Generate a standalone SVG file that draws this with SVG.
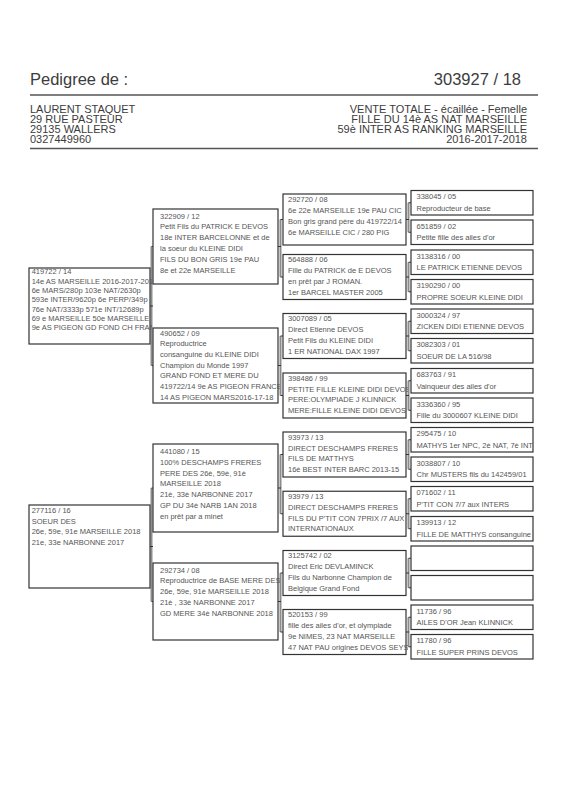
<svg xmlns="http://www.w3.org/2000/svg" width="566" height="800" viewBox="0 0 566 800">
<style>
.b{fill:#fff;stroke:#333;stroke-width:1.2}
.t{font-family:"Liberation Sans",Arial,sans-serif;font-size:7.5px;fill:#555}
.h{font-family:"Liberation Sans",Arial,sans-serif;fill:#3c3c3c}
.c{stroke:#8c8c8c;stroke-width:2;fill:none}
.k{stroke:#333;stroke-width:1.2;fill:none}
.r{stroke:#555;stroke-width:1.3}
</style>
<defs>
<clipPath id="cp1"><rect x="29" y="268" width="123" height="76"/></clipPath>
<clipPath id="cp2"><rect x="29" y="505" width="123" height="83"/></clipPath>
<clipPath id="cp3"><rect x="153" y="209" width="127" height="75"/></clipPath>
<clipPath id="cp4"><rect x="153" y="328" width="127" height="75"/></clipPath>
<clipPath id="cp5"><rect x="153" y="444" width="127" height="88"/></clipPath>
<clipPath id="cp6"><rect x="153" y="563" width="127" height="77"/></clipPath>
<clipPath id="cp3c"><rect x="283" y="190" width="125" height="470"/></clipPath>
<clipPath id="cp4c"><rect x="411" y="188" width="124" height="475"/></clipPath>
</defs>
<rect width="566" height="800" fill="#fff"/>
<g id="header">
<text class="h" x="30" y="85" font-size="16.5">Pedigree de :</text>
<text class="h" x="521" y="85" font-size="16.5" text-anchor="end">303927 / 18</text>
<line class="r" x1="30" y1="95" x2="538" y2="95"/>
<text class="h" font-size="11"><tspan x="30" y="112.5">LAURENT STAQUET</tspan><tspan x="30" y="122.8">29 RUE PASTEUR</tspan><tspan x="30" y="133.1">29135 WALLERS</tspan><tspan x="30" y="143.4">0327449960</tspan></text>
<text class="h" font-size="11" text-anchor="end"><tspan x="527" y="112.5">VENTE TOTALE - écaillée - Femelle</tspan><tspan x="527" y="122.8">FILLE DU 14è AS NAT MARSEILLE</tspan><tspan x="527" y="133.1">59è INTER AS RANKING MARSEILLE</tspan><tspan x="527" y="143.4">2016-2017-2018</tspan></text>
<line class="r" x1="30" y1="148.5" x2="538" y2="148.5"/>
</g>
<g id="connectors">
<path class="c" d="M151.5 246.5V365.5M151.5 488V601.5"/>
<path class="c" d="M280.5 219.5V277M280.5 336V395.5M280.5 454.5V513.75M280.5 573V632"/>
<path class="c" d="M408.5 202.75V232.25M408.5 262.25V291.75M408.5 321.25V350.75M408.5 380.75V410.25M408.5 439.75V469.25M408.5 498.75V528.75M408.5 558.25V587.75M408.5 617.25V646.75"/>
<path class="k" d="M150 306H153M150 546.5H153M151.5 246.5H153M151.5 365.5H153M151.5 488H153M151.5 601.5H153"/>
<path class="k" d="M278 246.5H281M278 365.5H281M278 488H281M278 601.5H281M280.5 219.5H283M280.5 277H283M280.5 336H283M280.5 395.5H283M280.5 454.5H283M280.5 513.75H283M280.5 573H283M280.5 632H283"/>
<path class="k" d="M406 219.5H409M406 277H409M406 336H409M406 395.5H409M406 454.5H409M406 513.75H409M406 573H409M406 632H409M408.5 202.75H411M408.5 232.25H411M408.5 262.25H411M408.5 291.75H411M408.5 321.25H411M408.5 350.75H411M408.5 380.75H411M408.5 410.25H411M408.5 439.75H411M408.5 469.25H411M408.5 498.75H411M408.5 528.75H411M408.5 558.25H411M408.5 587.75H411M408.5 617.25H411M408.5 646.75H411"/>
</g>
<g id="n1"><rect class="b" x="29" y="268" width="121" height="76"/>
<text class="t" clip-path="url(#cp1)"><tspan x="31.7" y="274.3">419722 / 14</tspan><tspan x="31.7" y="283.6">14e AS MARSEILLE 2016-2017-2018</tspan><tspan x="31.7" y="293">6e MARS/280p 103e NAT/2630p</tspan><tspan x="31.7" y="302.3">593e INTER/9620p 6e PERP/349p</tspan><tspan x="31.7" y="311.7">76e NAT/3333p 571e INT/12689p</tspan><tspan x="31.7" y="321">69 e MARSEILLE 50e MARSEILLE</tspan><tspan x="31.7" y="330.4">9e AS PIGEON GD FOND CH FRANCE</tspan></text></g>
<g id="n2"><rect class="b" x="29" y="505" width="121" height="83"/>
<text class="t" clip-path="url(#cp2)"><tspan x="31.7" y="512.7">277116 / 16</tspan><tspan x="31.7" y="523.5">SOEUR DES</tspan><tspan x="31.7" y="534.3">26e, 59e, 91e MARSEILLE 2018</tspan><tspan x="31.7" y="545.1">21e, 33e NARBONNE 2017</tspan></text></g>
<g id="n3"><rect class="b" x="153" y="209" width="125" height="75"/>
<text class="t" clip-path="url(#cp3)"><tspan x="160" y="218.5">322909 / 12</tspan><tspan x="160" y="229.4">Petit Fils du PATRICK E DEVOS</tspan><tspan x="160" y="240.3">18e INTER BARCELONNE et de</tspan><tspan x="160" y="251.2">la soeur du KLEINE DIDI</tspan><tspan x="160" y="262.1">FILS DU BON GRIS 19e PAU</tspan><tspan x="160" y="273">8e et 22e MARSEILLE</tspan></text></g>
<g id="n4"><rect class="b" x="153" y="328" width="125" height="75"/>
<text class="t" clip-path="url(#cp4)"><tspan x="160" y="335.5">490652 / 09</tspan><tspan x="160" y="346.2">Reproductrice</tspan><tspan x="160" y="356.9">consanguine du KLEINE DIDI</tspan><tspan x="160" y="367.6">Champion du Monde 1997</tspan><tspan x="160" y="378.3">GRAND FOND ET MERE DU</tspan><tspan x="160" y="389">419722/14 9e AS PIGEON FRANCE</tspan><tspan x="160" y="399.7">14 AS PIGEON MARS2016-17-18</tspan></text></g>
<g id="n5"><rect class="b" x="153" y="444" width="125" height="88"/>
<text class="t" clip-path="url(#cp5)"><tspan x="160" y="454.3">441080 / 15</tspan><tspan x="160" y="465">100% DESCHAMPS FRERES</tspan><tspan x="160" y="475.7">PERE DES 26è, 59è, 91è</tspan><tspan x="160" y="486.4">MARSEILLE 2018</tspan><tspan x="160" y="497.1">21è, 33è NARBONNE 2017</tspan><tspan x="160" y="507.8">GP DU 34è NARB 1AN 2018</tspan><tspan x="160" y="518.5">en prêt par a minet</tspan></text></g>
<g id="n6"><rect class="b" x="153" y="563" width="125" height="77"/>
<text class="t" clip-path="url(#cp6)"><tspan x="160" y="572.5">292734 / 08</tspan><tspan x="160" y="583.3">Reproductrice de BASE MERE DES</tspan><tspan x="160" y="594.1">26e, 59e, 91è MARSEILLE 2018</tspan><tspan x="160" y="604.9">21è , 33è NARBONNE 2017</tspan><tspan x="160" y="615.7">GD MERE 34è NARBONNE 2018</tspan></text></g>
<g id="n7"><rect class="b" x="283" y="194" width="123" height="51"/>
<text class="t" clip-path="url(#cp3c)"><tspan x="288" y="202">292720 / 08</tspan><tspan x="288" y="213">6e 22e MARSEILLE 19e PAU CIC</tspan><tspan x="288" y="224">Bon gris grand père du 419722/14</tspan><tspan x="288" y="235">6e MARSEILLE CIC / 280 PIG</tspan></text></g>
<g id="n8"><rect class="b" x="283" y="254.5" width="123" height="45"/>
<text class="t" clip-path="url(#cp3c)"><tspan x="288" y="262.3">564888 / 06</tspan><tspan x="288" y="273.1">Fille du PATRICK de E DEVOS</tspan><tspan x="288" y="283.9">en prêt par J ROMAN.</tspan><tspan x="288" y="294.7">1er BARCEL MASTER 2005</tspan></text></g>
<g id="n9"><rect class="b" x="283" y="313.5" width="123" height="45"/>
<text class="t" clip-path="url(#cp3c)"><tspan x="288" y="321.3">3007089 / 05</tspan><tspan x="288" y="332.1">Direct Etienne DEVOS</tspan><tspan x="288" y="342.9">Petit Fils du KLEINE DIDI</tspan><tspan x="288" y="353.7">1 ER NATIONAL DAX 1997</tspan></text></g>
<g id="n10"><rect class="b" x="283" y="373" width="123" height="45"/>
<text class="t" clip-path="url(#cp3c)"><tspan x="288" y="380.8">398486 / 99</tspan><tspan x="288" y="391.6">PETITE FILLE KLEINE DIDI DEVOS</tspan><tspan x="288" y="402.4">PERE:OLYMPIADE J KLINNICK</tspan><tspan x="288" y="413.2">MERE:FILLE KLEINE DIDI DEVOS</tspan></text></g>
<g id="n11"><rect class="b" x="283" y="432" width="123" height="45"/>
<text class="t" clip-path="url(#cp3c)"><tspan x="288" y="439.8">93973 / 13</tspan><tspan x="288" y="450.6">DIRECT DESCHAMPS FRERES</tspan><tspan x="288" y="461.4">FILS DE MATTHYS</tspan><tspan x="288" y="472.2">16è BEST INTER BARC 2013-15</tspan></text></g>
<g id="n12"><rect class="b" x="283" y="491.25" width="123" height="45"/>
<text class="t" clip-path="url(#cp3c)"><tspan x="288" y="499">93979 / 13</tspan><tspan x="288" y="509.8">DIRECT DESCHAMPS FRERES</tspan><tspan x="288" y="520.6">FILS DU P'TIT CON 7PRIX /7 AUX</tspan><tspan x="288" y="531.4">INTERNATIONAUX</tspan></text></g>
<g id="n13"><rect class="b" x="283" y="550.5" width="123" height="45"/>
<text class="t" clip-path="url(#cp3c)"><tspan x="288" y="558.3">3125742 / 02</tspan><tspan x="288" y="569.1">Direct Eric DEVLAMINCK</tspan><tspan x="288" y="579.9">Fils du Narbonne Champion de</tspan><tspan x="288" y="590.7">Belgique Grand Fond</tspan></text></g>
<g id="n14"><rect class="b" x="283" y="609.5" width="123" height="45"/>
<text class="t" clip-path="url(#cp3c)"><tspan x="288" y="617.3">520153 / 99</tspan><tspan x="288" y="628.1">fille des ailes d'or, et olympiade</tspan><tspan x="288" y="638.9">9e NIMES, 23 NAT MARSEILLE</tspan><tspan x="288" y="649.7">47 NAT PAU origines DEVOS SEYS</tspan></text></g>
<g id="n15"><rect class="b" x="411" y="190.5" width="122" height="24.5"/><text class="t" clip-path="url(#cp4c)"><tspan x="416.5" y="199.3">338045 / 05</tspan><tspan x="416.5" y="210.5">Reproducteur de base</tspan></text></g>
<g id="n16"><rect class="b" x="411" y="220" width="122" height="24.5"/><text class="t" clip-path="url(#cp4c)"><tspan x="416.5" y="228.8">651859 / 02</tspan><tspan x="416.5" y="240">Petite fille des ailes d'or</tspan></text></g>
<g id="n17"><rect class="b" x="411" y="250" width="122" height="24.5"/><text class="t" clip-path="url(#cp4c)"><tspan x="416.5" y="258.8">3138316 / 00</tspan><tspan x="416.5" y="270">LE PATRICK ETIENNE DEVOS</tspan></text></g>
<g id="n18"><rect class="b" x="411" y="279.5" width="122" height="24.5"/><text class="t" clip-path="url(#cp4c)"><tspan x="416.5" y="288.3">3190290 / 00</tspan><tspan x="416.5" y="299.5">PROPRE SOEUR KLEINE DIDI</tspan></text></g>
<g id="n19"><rect class="b" x="411" y="309" width="122" height="24.5"/><text class="t" clip-path="url(#cp4c)"><tspan x="416.5" y="317.8">3000324 / 97</tspan><tspan x="416.5" y="329">ZICKEN DIDI ETIENNE DEVOS</tspan></text></g>
<g id="n20"><rect class="b" x="411" y="338.5" width="122" height="24.5"/><text class="t" clip-path="url(#cp4c)"><tspan x="416.5" y="347.3">3082303 / 01</tspan><tspan x="416.5" y="358.5">SOEUR DE LA 516/98</tspan></text></g>
<g id="n21"><rect class="b" x="411" y="368.5" width="122" height="24.5"/><text class="t" clip-path="url(#cp4c)"><tspan x="416.5" y="377.3">683763 / 91</tspan><tspan x="416.5" y="388.5">Vainqueur des ailes d'or</tspan></text></g>
<g id="n22"><rect class="b" x="411" y="398" width="122" height="24.5"/><text class="t" clip-path="url(#cp4c)"><tspan x="416.5" y="406.8">3336360 / 95</tspan><tspan x="416.5" y="418">Fille du 3000607 KLEINE DIDI</tspan></text></g>
<g id="n23"><rect class="b" x="411" y="427.5" width="122" height="24.5"/><text class="t" clip-path="url(#cp4c)"><tspan x="416.5" y="436.3">295475 / 10</tspan><tspan x="416.5" y="447.5">MATHYS 1er NPC, 2è NAT, 7è INT</tspan></text></g>
<g id="n24"><rect class="b" x="411" y="457" width="122" height="24.5"/><text class="t" clip-path="url(#cp4c)"><tspan x="416.5" y="465.8">3038807 / 10</tspan><tspan x="416.5" y="477">Chr MUSTERS fils du 142459/01</tspan></text></g>
<g id="n25"><rect class="b" x="411" y="486.5" width="122" height="24.5"/><text class="t" clip-path="url(#cp4c)"><tspan x="416.5" y="495.3">071602 / 11</tspan><tspan x="416.5" y="506.5">P'TIT CON 7/7 aux INTERS</tspan></text></g>
<g id="n26"><rect class="b" x="411" y="516.5" width="122" height="24.5"/><text class="t" clip-path="url(#cp4c)"><tspan x="416.5" y="525.3">139913 / 12</tspan><tspan x="416.5" y="536.5">FILLE DE MATTHYS consanguine</tspan></text></g>
<g id="n27"><rect class="b" x="411" y="546" width="122" height="24.5"/></g>
<g id="n28"><rect class="b" x="411" y="575.5" width="122" height="24.5"/></g>
<g id="n29"><rect class="b" x="411" y="605" width="122" height="24.5"/><text class="t" clip-path="url(#cp4c)"><tspan x="416.5" y="613.8">11736 / 96</tspan><tspan x="416.5" y="625">AILES D'OR Jean KLINNICK</tspan></text></g>
<g id="n30"><rect class="b" x="411" y="634.5" width="122" height="24.5"/><text class="t" clip-path="url(#cp4c)"><tspan x="416.5" y="643.3">11780 / 96</tspan><tspan x="416.5" y="654.5">FILLE SUPER PRINS DEVOS</tspan></text></g>
</svg>
